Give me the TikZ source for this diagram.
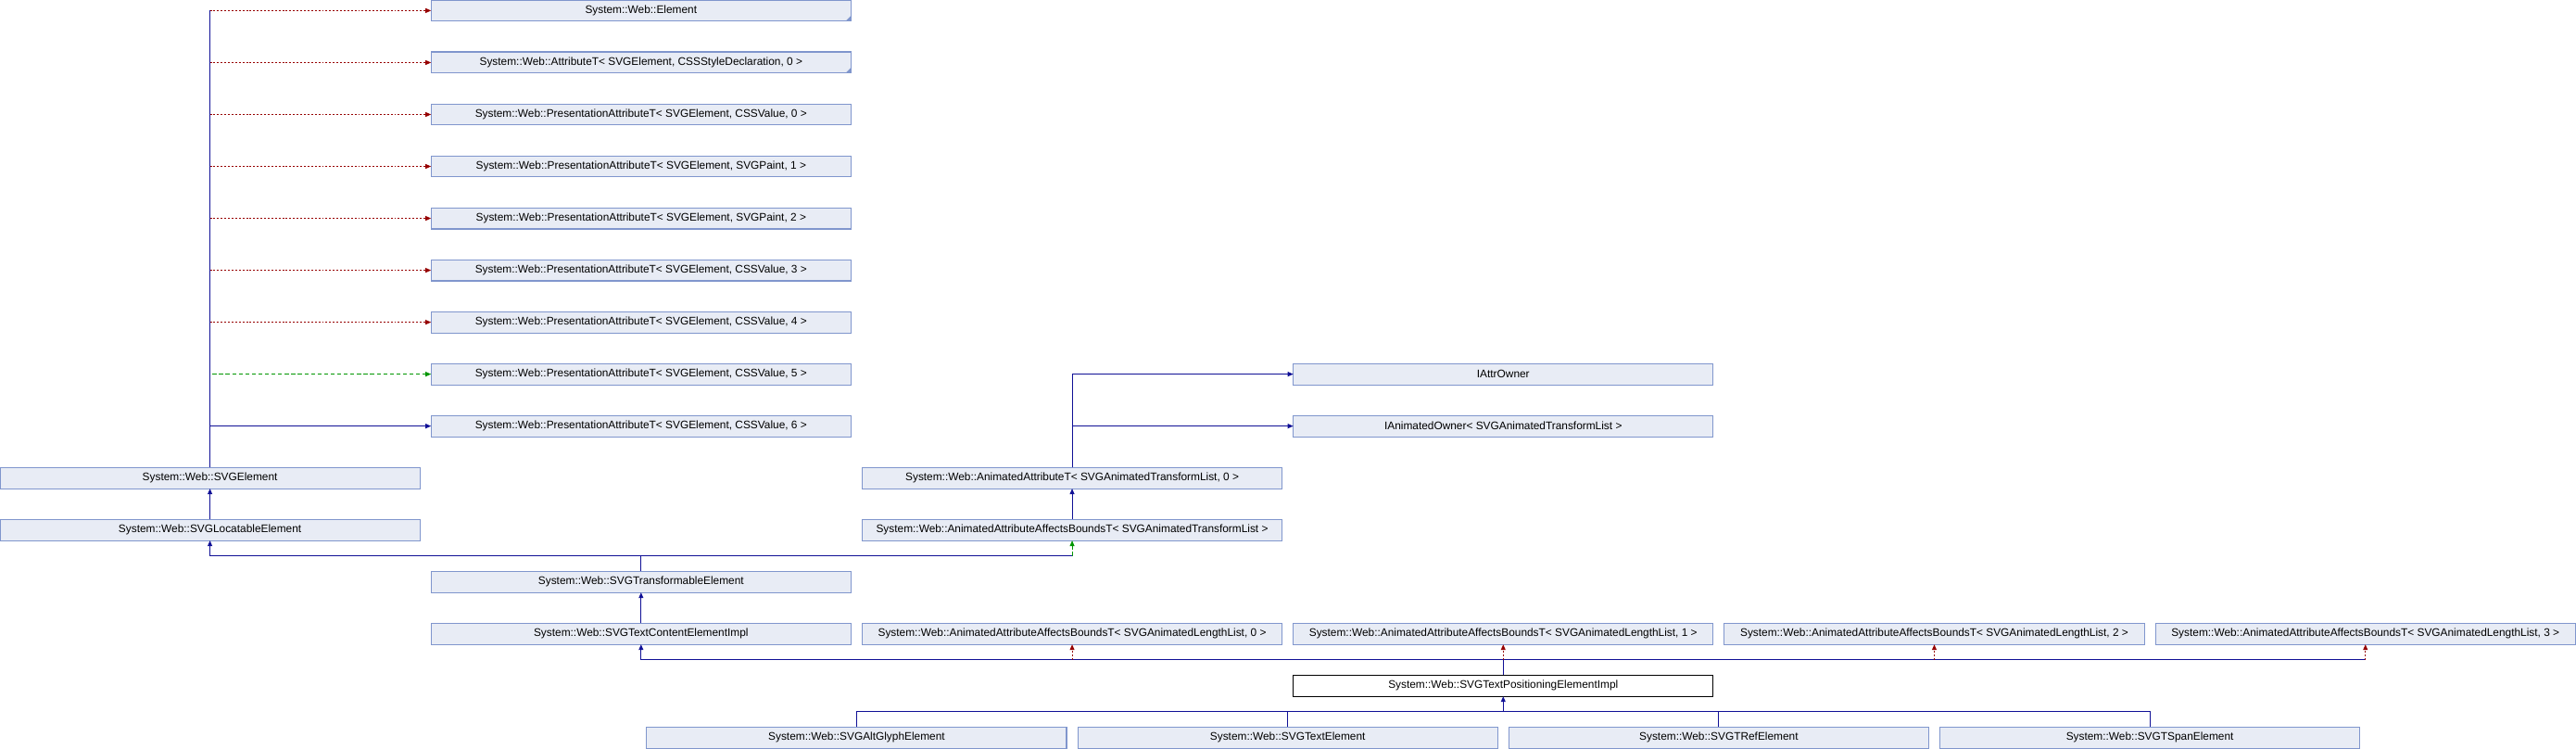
\documentclass[tikz,border=0pt]{standalone}
\usepackage{fontspec}
\setmainfont{Liberation Sans}
\usetikzlibrary{arrows.meta,calc}
\definecolor{boxfill}{RGB}{232,236,245}
\definecolor{boxline}{RGB}{128,150,205}
\definecolor{pubc}{RGB}{16,16,150}
\definecolor{privc}{RGB}{150,0,0}
\definecolor{protc}{RGB}{0,150,0}
\tikzset{
 cls/.style={draw=boxline, fill=boxfill, line width=0.6pt, minimum width=255.6pt, minimum height=12.9pt, inner sep=0pt, outer sep=0pt, anchor=north west, font=\fontsize{6.7}{8}\selectfont},
 cur/.style={cls, draw=black, fill=white},
 pub/.style={draw=pubc, line width=0.6pt},
 priv/.style={draw=privc, line width=0.6pt, dash pattern=on 1.1pt off 1.1pt},
 prot/.style={draw=protc, line width=0.6pt, dash pattern=on 2.4pt off 1.6pt},
 tip/.style={-{Triangle[length=3.4pt,width=2.8pt]}},
 corner/.style={fill=boxline},
}
\begin{document}
\begin{tikzpicture}[x=1pt,y=1pt]
\useasboundingbox (0,0) rectangle (1568,-455.7);
% column B bases
\node[cls] (elem) at (262.4,0) {System::Web::Element};
\node[cls] (attr) at (262.4,-31.6) {System::Web::AttributeT< SVGElement, CSSStyleDeclaration, 0 >};
\node[cls] (pa0) at (262.4,-63.2) {System::Web::PresentationAttributeT< SVGElement, CSSValue, 0 >};
\node[cls] (pa1) at (262.4,-94.8) {System::Web::PresentationAttributeT< SVGElement, SVGPaint, 1 >};
\node[cls] (pa2) at (262.4,-126.4) {System::Web::PresentationAttributeT< SVGElement, SVGPaint, 2 >};
\node[cls] (pa3) at (262.4,-158) {System::Web::PresentationAttributeT< SVGElement, CSSValue, 3 >};
\node[cls] (pa4) at (262.4,-189.6) {System::Web::PresentationAttributeT< SVGElement, CSSValue, 4 >};
\node[cls] (pa5) at (262.4,-221.2) {System::Web::PresentationAttributeT< SVGElement, CSSValue, 5 >};
\node[cls] (pa6) at (262.4,-252.8) {System::Web::PresentationAttributeT< SVGElement, CSSValue, 6 >};
% column A
\node[cls] (svgel) at (0,-284.4) {System::Web::SVGElement};
\node[cls] (loc) at (0,-316) {System::Web::SVGLocatableElement};
% column B lower
\node[cls] (trans) at (262.4,-347.6) {System::Web::SVGTransformableElement};
\node[cls] (tce) at (262.4,-379.2) {System::Web::SVGTextContentElementImpl};
% animated
\node[cls] (iattr) at (787.2,-221.2) {IAttrOwner};
\node[cls] (ianim) at (787.2,-252.8) {IAnimatedOwner< SVGAnimatedTransformList >};
\node[cls] (aat) at (524.8,-284.4) {System::Web::AnimatedAttributeT< SVGAnimatedTransformList, 0 >};
\node[cls] (aabt) at (524.8,-316) {System::Web::AnimatedAttributeAffectsBoundsT< SVGAnimatedTransformList >};
% length lists
\node[cls] (ll0) at (524.8,-379.2) {System::Web::AnimatedAttributeAffectsBoundsT< SVGAnimatedLengthList, 0 >};
\node[cls] (ll1) at (787.2,-379.2) {System::Web::AnimatedAttributeAffectsBoundsT< SVGAnimatedLengthList, 1 >};
\node[cls] (ll2) at (1049.6,-379.2) {System::Web::AnimatedAttributeAffectsBoundsT< SVGAnimatedLengthList, 2 >};
\node[cls] (ll3) at (1312,-379.2) {System::Web::AnimatedAttributeAffectsBoundsT< SVGAnimatedLengthList, 3 >};
% current
\node[cur] (tpe) at (787.2,-410.8) {System::Web::SVGTextPositioningElementImpl};
% derived
\node[cls] (alt) at (393.6,-442.4) {System::Web::SVGAltGlyphElement};
\node[cls] (txt) at (656,-442.4) {System::Web::SVGTextElement};
\node[cls] (tref) at (918.4,-442.4) {System::Web::SVGTRefElement};
\node[cls] (tspan) at (1180.8,-442.4) {System::Web::SVGTSpanElement};
% corner marks
\fill[corner] (elem.south east) -- ++(-3.4,0) -- ++(3.4,3.4) -- cycle;
\fill[corner] (attr.south east) -- ++(-3.4,0) -- ++(3.4,3.4) -- cycle;
% SVGElement bases
\foreach \b in {elem,attr,pa0,pa1,pa2,pa3,pa4}{
  \draw[priv,tip] (svgel.north |- \b.west) -- (\b.west);
}
\draw[prot,tip] ($(svgel.north |- pa5.west)+(1.5,0)$) -- (pa5.west);
\draw[pub] (svgel.north) -- (svgel.north |- elem.west);
\draw[pub,tip] (svgel.north) |- (pa6.west);
\draw[pub,tip] (loc.north) -- (svgel.south);
% SVGTransformableElement
\coordinate (j1) at ($(trans.north)+(0,9.35)$);
\draw[pub,tip] (trans.north) -- (j1) -| (loc.south);
\draw[pub] (j1) -- (j1 -| aabt.south);
\draw[prot,tip] (j1 -| aabt.south) -- (aabt.south);
\draw[pub,tip] (aabt.north) -- (aat.south);
\draw[pub,tip] (aat.north) |- (iattr.west);
\draw[pub,tip] (aat.north) |- (ianim.west);
\draw[pub,tip] (tce.north) -- (trans.south);
% SVGTextPositioningElementImpl
\coordinate (j2) at ($(tpe.north)+(0,9.35)$);
\draw[pub,tip] (tpe.north) -- (j2) -| (tce.south);
\draw[pub] (j2) -- (j2 -| ll3.south);
\foreach \b in {ll0,ll1,ll2,ll3}{
  \draw[priv,tip] (j2 -| \b.south) -- (\b.south);
}
% derived classes
\coordinate (j3) at ($(tpe.south)+(0,-9.35)$);
\draw[pub,tip] (j3) -- (tpe.south);
\draw[pub] (alt.north) |- (j3) -| (tspan.north);
\draw[pub] (txt.north) -- (txt.north |- j3);
\draw[pub] (tref.north) -- (tref.north |- j3);
\end{tikzpicture}
\end{document}
